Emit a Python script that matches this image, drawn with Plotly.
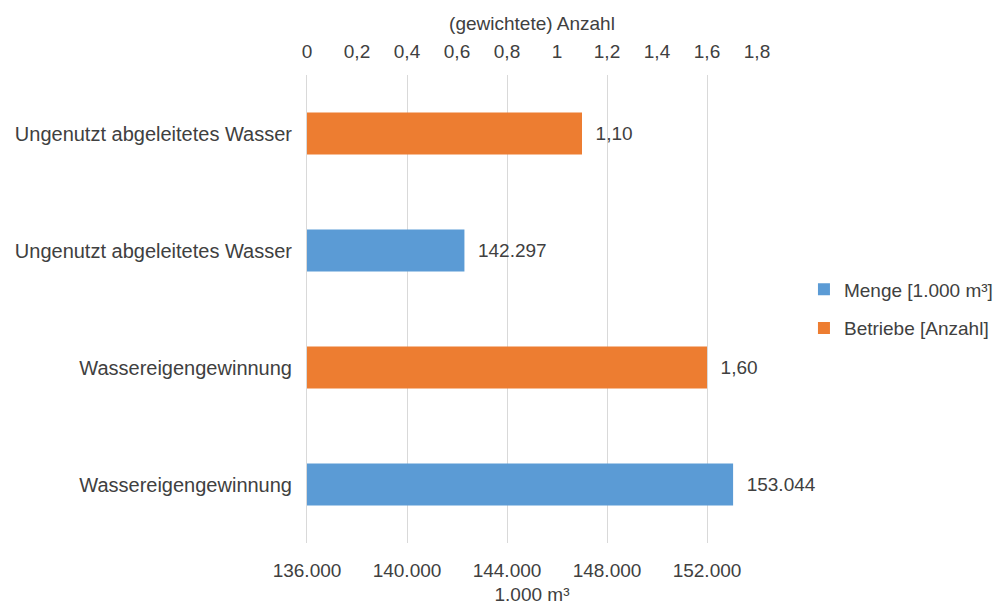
import plotly.graph_objects as go

categories = ["Wassereigengewinnung", "Ungenutzt abgeleitetes Wasser"]
menge = [153044, 142297]          # 1.000 m³
betriebe = [1.60, 1.10]           # (gewichtete) Anzahl
series_names = ["Menge [1.000 m³]", "Betriebe [Anzahl]"]
colors = ["#5B9BD5", "#ED7D31"]

# each category gets two rows: blue (Menge) below, orange (Betriebe) above
y_menge = [2 * i for i in range(len(categories))]
y_betr = [2 * i + 1 for i in range(len(categories))]
tickvals = sorted(y_menge + y_betr)
ticktext = [categories[v // 2] for v in tickvals]

font = "Liberation Sans, Arial, sans-serif"
txt = "#404040"
fs = 20

fig = go.Figure()
fig.add_trace(go.Bar(
    y=y_menge, x=menge, orientation="h", name=series_names[0],
    marker=dict(color=colors[0], line=dict(width=0)), width=0.36,
    xaxis="x", yaxis="y", legendgroup="a",
    texttemplate="  %{x:,.0f}", textposition="outside",
    textfont=dict(size=fs - 1, color=txt, family=font), cliponaxis=False,
))
fig.add_trace(go.Bar(
    y=y_betr, x=betriebe, orientation="h", name=series_names[1],
    marker=dict(color=colors[1], line=dict(width=0)), width=0.36,
    xaxis="x2", yaxis="y", legendgroup="b",
    texttemplate="  %{x:.2f}", textposition="outside",
    textfont=dict(size=fs - 1, color=txt, family=font), cliponaxis=False,
))

fig.update_layout(
    width=1005, height=605,
    margin=dict(l=299, r=256, t=67, b=70, autoexpand=False),
    paper_bgcolor="white", plot_bgcolor="white",
    separators=",.",
    font=dict(family=font, size=fs, color=txt),
    barmode="overlay",
    showlegend=True,
    legend=dict(xref="container", x=0.792, y=0.50, xanchor="left", yanchor="middle",
                font=dict(size=fs - 1, color=txt, family=font),
                traceorder="grouped", itemwidth=30, tracegroupgap=11),
    xaxis=dict(range=[136000, 154000], dtick=4000, tick0=136000, automargin=False,
               tickformat=",.0f", showgrid=True, gridcolor="#d9d9d9", gridwidth=1,
               zeroline=False, showline=False, ticks="", ticklabelstandoff=14,
               title=dict(text="1.000 m³", standoff=7, font=dict(size=fs - 1, color=txt)),
               tickfont=dict(size=fs - 1, color=txt)),
    xaxis2=dict(range=[0, 1.8], dtick=0.2, tick0=0, overlaying="x", side="top",
                automargin=False,
                showgrid=False, zeroline=False, showline=False, ticks="",
                ticklabelstandoff=12,
                title=dict(text="(gewichtete) Anzahl", standoff=5, font=dict(size=fs - 1, color=txt)),
                tickfont=dict(size=fs - 1, color=txt)),
    yaxis=dict(range=[-0.5, 3.5], tickvals=tickvals, ticktext=ticktext, automargin=False,
               showgrid=False, zeroline=False, showline=True, linecolor="#d9d9d9",
               linewidth=1, ticks="", ticklabelstandoff=10,
               tickfont=dict(size=fs, color=txt)),
)

fig.write_html("out.html")
